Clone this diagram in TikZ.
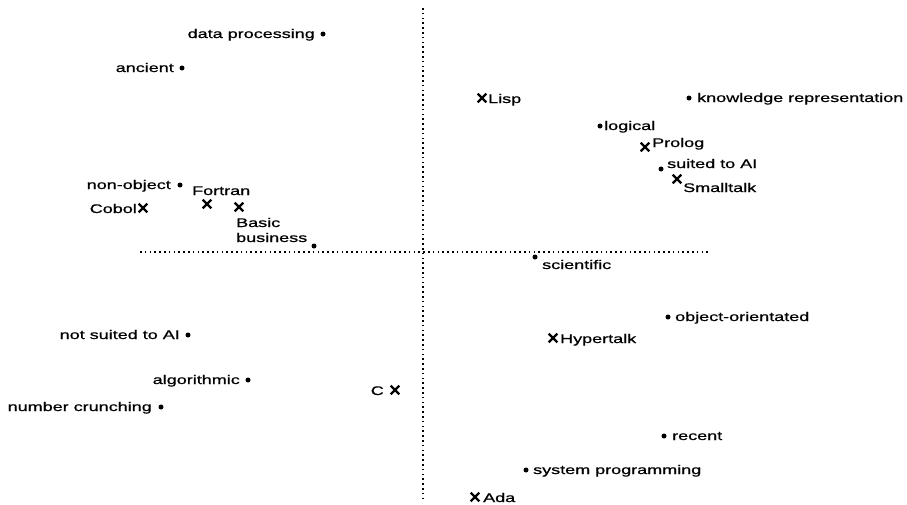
\documentclass[tikz,border=0pt]{standalone}
\usepackage{fontspec}
\setmainfont{Liberation Sans}[FakeStretch=1.44,FakeBold=0.8]
\usetikzlibrary{shapes.misc}
\begin{document}
\begin{tikzpicture}[x=1pt,y=-1pt,
  feat/.style={circle,fill=black,inner sep=0pt,minimum size=5pt},
  lang/.style={cross out,draw=black,line width=2.2pt,inner sep=0pt,minimum size=6.5pt},
  lblL/.style={inner sep=0pt,anchor=base east,font=\fontsize{12.5}{15}\selectfont},
  lblR/.style={inner sep=0pt,anchor=base west,font=\fontsize{12.5}{15}\selectfont},
  axis/.style={line width=2pt,dash pattern=on 1.6pt off 3.2pt}]
\useasboundingbox (0,0) rectangle (907,504);
% axes
\coordinate (xl) at (140,252);
\coordinate (xr) at (710,252);
\coordinate (yt) at (423,8);
\coordinate (yb) at (423,498);
\draw[axis] (xl) -- (xr);
\draw[axis] (yt) -- (yb);
% features (bullets)
\node[feat] (dp) at (323,34) {};   \node[lblL] (dpt) at (315,38) {data processing};
\node[feat] (anc) at (182,68) {};  \node[lblL] (anct) at (174,72) {ancient};
\node[feat] (no) at (180,185) {};  \node[lblL] (not) at (171,189) {non-object};
\node[feat] (bus) at (314,246) {}; \node[lblR] (bust) at (236,242) {business};
\node[feat] (ns) at (188,335) {};  \node[lblL] (nst) at (180,339) {not suited to AI};
\node[feat] (alg) at (248,380) {}; \node[lblL] (algt) at (240,384) {algorithmic};
\node[feat] (nc) at (161,407) {};  \node[lblL] (nct) at (152,411) {number crunching};
\node[feat] (kr) at (689,98) {};   \node[lblR] (krt) at (697,102) {knowledge representation};
\node[feat] (lg) at (600,126) {};  \node[lblR] (lgt) at (604,130) {logical};
\node[feat] (sa) at (661,169) {};  \node[lblR] (sat) at (667,168) {suited to AI};
\node[feat] (sc) at (535,257) {};  \node[lblR] (sct) at (542,269) {scientific};
\node[feat] (oo) at (668,317) {};  \node[lblR] (oot) at (675,321) {object-orientated};
\node[feat] (rc) at (664,436) {};  \node[lblR] (rct) at (672,440) {recent};
\node[feat] (sp) at (526,470) {};  \node[lblR] (spt) at (533,474) {system programming};
% languages (crosses)
\node[lang] (lisp) at (482,98) {};  \node[lblR] (lispt) at (488,103) {Lisp};
\node[lang] (pro) at (645,147) {};  \node[lblR] (prot) at (652,147) {Prolog};
\node[lang] (sm) at (677,179) {};   \node[lblR] (smt) at (683,192) {Smalltalk};
\node[lang] (for) at (207,204) {};  \node[lblR] (fort) at (192,195) {Fortran};
\node[lang] (cob) at (143,208) {};  \node[lblL] (cobt) at (137,213) {Cobol};
\node[lang] (bas) at (239,207) {};  \node[lblR] (bast) at (236,227) {Basic};
\node[lang] (c) at (395,390) {};    \node[lblL] (ct) at (384,395) {C};
\node[lang] (hyp) at (553,338) {};  \node[lblR] (hypt) at (560,343) {Hypertalk};
\node[lang] (ada) at (475,497) {};  \node[lblR] (adat) at (483,502) {Ada};
\end{tikzpicture}
\end{document}
